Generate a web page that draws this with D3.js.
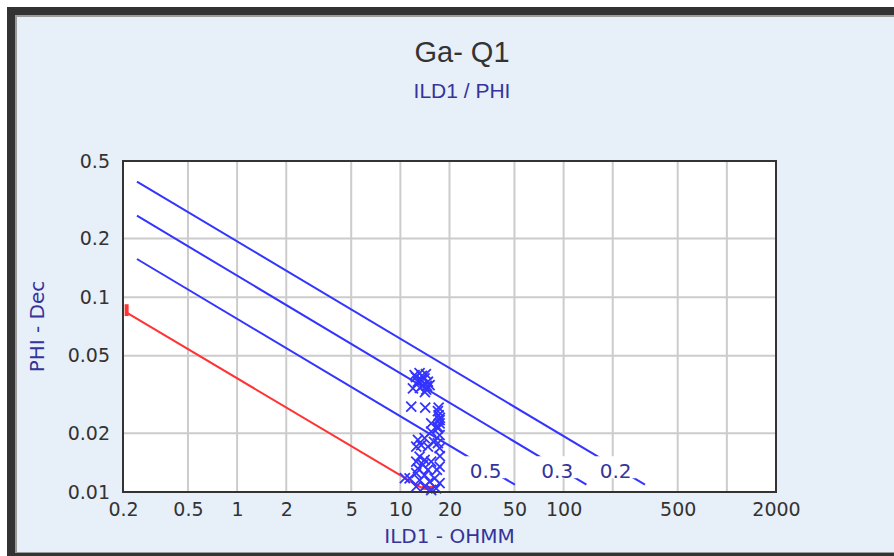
<!DOCTYPE html>
<html>
<head>
<meta charset="utf-8">
<script src="https://cdn.jsdelivr.net/npm/d3@7"></script>
<style>
  html, body { margin: 0; padding: 0; background: #ffffff; }
  svg { display: block; }
</style>
</head>
<body>
<svg id="chart" width="894" height="556"></svg>
<script>
// ---------- data ----------
const chartTitle = "Ga- Q1";
const chartSubtitle = "ILD1 / PHI";
const xAxisTitle = "ILD1 - OHMM";
const yAxisTitle = "PHI - Dec";

const xTickLabels = [0.2, 0.5, 1, 2, 5, 10, 20, 50, 100, 500, 2000];
const xGridValues = [0.5, 1, 2, 5, 10, 20, 50, 100, 200, 500, 1000];
const yTickLabels = [0.01, 0.02, 0.05, 0.1, 0.2, 0.5];
const yGridValues = [0.02, 0.05, 0.1, 0.2];

// Sw lines (blue): start and end points
const swLabels   = ["0.2", "0.3", "0.5"];
const swStartRt  = [0.2435, 0.2435, 0.2435];
const swStartPhi = [0.392, 0.262, 0.157];
const swEndRt    = [315, 138, 50.3];
const swEndPhi   = [0.0109, 0.0109, 0.0109];
const swLabelPhi = 0.0134;

// Sw = 1 line (red)
const redRt  = [0.2105, 13.5];
const redPhi = [0.0833, 0.0105];
const redStartBarPhi = [0.080, 0.092];
const redEndBarRt = [13.5, 16.1];

// scatter points (ILD1, PHI)
const pointRt = [
  12.23, 13.12, 14.08, 14.75, 12.81, 13.75, 11.94, 14.40, 13.42, 15.11,
  12.46, 14.34, 13.55, 14.54, 13.17, 14.14,
  11.66, 14.20, 17.16,
  17.16, 17.40, 17.40, 15.45, 16.99, 17.46, 16.98,
  16.98, 15.45, 17.40, 14.08, 12.81, 16.05, 16.98, 13.42, 12.51, 17.40, 14.75,
  13.12, 14.08, 12.51, 15.45, 13.75, 17.40, 12.81, 14.75, 12.51, 14.08,
  16.20, 11.39, 13.12, 15.11, 17.40, 14.08, 16.57, 12.51, 15.45, 10.66,
  17.46, 16.75
];
const pointPhi = [
  0.0398, 0.0407, 0.0383, 0.0368, 0.0368, 0.0354, 0.0340, 0.0335, 0.0376, 0.0354,
  0.0389, 0.0403, 0.0394, 0.0350, 0.0342, 0.0326,
  0.0274, 0.0271, 0.0271,
  0.0248, 0.0234, 0.0225, 0.0225, 0.0216, 0.0240, 0.0260,
  0.0212, 0.0204, 0.0196, 0.0189, 0.0185, 0.0181, 0.0178, 0.0174, 0.0171, 0.0168, 0.0171,
  0.0152, 0.0146, 0.0143, 0.0143, 0.0138, 0.0135, 0.0132, 0.0130, 0.0125, 0.0122,
  0.01175, 0.01175, 0.0115, 0.0113, 0.0111, 0.01065, 0.01044, 0.01065, 0.01024, 0.01179,
  0.0153, 0.0130
];

// ---------- layout ----------
const svg = d3.select("#chart");
const plot = { left: 123, right: 776, top: 161, bottom: 492 };
const blue = "#3434ff";
const navy = "#34349c";
const red = "#ff3333";

// frame
svg.append("rect").attr("x", 7).attr("y", 7).attr("width", 900).attr("height", 549).attr("fill", "#333333");
svg.append("rect").attr("x", 15).attr("y", 15).attr("width", 900).attr("height", 538).attr("fill", "#9a9a9a");
svg.append("rect").attr("x", 17).attr("y", 17).attr("width", 900).attr("height", 535).attr("fill", "#e7eff8");

const x = d3.scaleLog().domain([0.2, 2000]).range([plot.left, plot.right]);
const y = d3.scaleLog().domain([0.01, 0.5]).range([plot.bottom, plot.top]);

// plot area
svg.append("rect")
  .attr("x", plot.left).attr("y", plot.top)
  .attr("width", plot.right - plot.left).attr("height", plot.bottom - plot.top)
  .attr("fill", "#ffffff");

// grid
const grid = svg.append("g").attr("stroke", "#cccccc").attr("stroke-width", 2);
grid.selectAll("line.vx").data(xGridValues).join("line")
  .attr("x1", d => x(d)).attr("x2", d => x(d))
  .attr("y1", plot.top).attr("y2", plot.bottom);
grid.selectAll("line.hy").data(yGridValues).join("line")
  .attr("y1", d => y(d)).attr("y2", d => y(d))
  .attr("x1", plot.left).attr("x2", plot.right);

// title
svg.append("text").attr("x", 462).attr("y", 62).attr("text-anchor", "middle")
  .attr("font-family", "Liberation Sans, Arial, sans-serif").attr("font-size", 29)
  .attr("fill", "#333333").text(chartTitle);
svg.append("text").attr("x", 462).attr("y", 98).attr("text-anchor", "middle")
  .attr("font-family", "Liberation Sans, Arial, sans-serif").attr("font-size", 21)
  .attr("fill", navy).text(chartSubtitle);

// axes
const xAxis = d3.axisBottom(x).tickValues(xTickLabels).tickSize(0).tickPadding(11)
  .tickFormat(d => String(d));
const gx = svg.append("g").attr("transform", `translate(0,${plot.bottom})`).call(xAxis);
gx.select(".domain").remove();
gx.selectAll("text").attr("font-family", "DejaVu Sans, Verdana, sans-serif")
  .attr("font-size", 19).attr("fill", "#333333");

const yAxis = d3.axisLeft(y).tickValues(yTickLabels).tickSize(0).tickPadding(13)
  .tickFormat(d => String(d));
const gy = svg.append("g").attr("transform", `translate(${plot.left},0)`).call(yAxis);
gy.select(".domain").remove();
gy.selectAll("text").attr("font-family", "DejaVu Sans, Verdana, sans-serif")
  .attr("font-size", 19).attr("fill", "#333333");

// axis titles
svg.append("text").attr("x", (plot.left + plot.right) / 2).attr("y", 543)
  .attr("text-anchor", "middle").attr("font-family", "DejaVu Sans, Verdana, sans-serif")
  .attr("font-size", 20).attr("fill", navy).text(xAxisTitle);
svg.append("text")
  .attr("transform", `translate(44,${(plot.top + plot.bottom) / 2}) rotate(-90)`)
  .attr("text-anchor", "middle").attr("font-family", "DejaVu Sans, Verdana, sans-serif")
  .attr("font-size", 20).attr("fill", navy).text(yAxisTitle);

// Sw lines
const lineGen = d3.line().x(d => x(d[0])).y(d => y(d[1]));
const swData = swLabels.map((lab, i) => ({
  label: lab,
  pts: [[swStartRt[i], swStartPhi[i]], [swEndRt[i], swEndPhi[i]]]
}));
svg.append("g").selectAll("path").data(swData).join("path")
  .attr("d", d => lineGen(d.pts)).attr("fill", "none")
  .attr("stroke", blue).attr("stroke-width", 2);

// Sw labels with white background on the line
const labG = svg.append("g");
swData.forEach(d => {
  const [p0, p1] = d.pts;
  const t = (Math.log(p0[1]) - Math.log(swLabelPhi)) / (Math.log(p0[1]) - Math.log(p1[1]));
  const rt = Math.exp(Math.log(p0[0]) + t * (Math.log(p1[0]) - Math.log(p0[0])));
  const cx = x(rt), cy = y(swLabelPhi);
  labG.append("rect").attr("x", cx - 20).attr("y", cy - 11).attr("width", 40).attr("height", 22)
    .attr("fill", "#ffffff");
  labG.append("text").attr("x", cx).attr("y", cy + 11).attr("text-anchor", "middle")
    .attr("font-family", "DejaVu Sans, Verdana, sans-serif").attr("font-size", 20)
    .attr("fill", navy).text(d.label);
});

// red Sw=1 line
svg.append("path").attr("d", lineGen(redRt.map((r, i) => [r, redPhi[i]])))
  .attr("fill", "none").attr("stroke", red).attr("stroke-width", 2);
svg.append("line")
  .attr("x1", x(redRt[0])).attr("x2", x(redRt[0]))
  .attr("y1", y(redStartBarPhi[0])).attr("y2", y(redStartBarPhi[1]))
  .attr("stroke", red).attr("stroke-width", 4);
svg.append("line")
  .attr("x1", x(redEndBarRt[0])).attr("x2", x(redEndBarRt[1]))
  .attr("y1", y(redPhi[1])).attr("y2", y(redPhi[1]))
  .attr("stroke", red).attr("stroke-width", 4);

// scatter (x markers)
const pts = pointRt.map((r, i) => [r, pointPhi[i]]);
svg.append("g").selectAll("path").data(pts).join("path")
  .attr("transform", d => `translate(${x(d[0])},${y(d[1])})`)
  .attr("d", "M-5,-5L5,5M-5,5L5,-5")
  .attr("fill", "none").attr("stroke", blue).attr("stroke-width", 1.8);

// plot border
svg.append("rect")
  .attr("x", plot.left).attr("y", plot.top)
  .attr("width", plot.right - plot.left).attr("height", plot.bottom - plot.top)
  .attr("fill", "none").attr("stroke", "#333333").attr("stroke-width", 2);
</script>
</body>
</html>
